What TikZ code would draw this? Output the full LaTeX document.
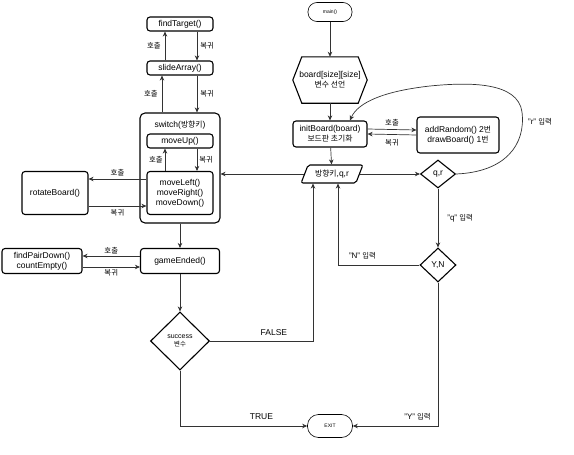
\documentclass[tikz,border=0pt]{standalone}
\usepackage{fontspec}
\setmainfont{Liberation Sans}
\newfontfamily\krfont[Scale=0.92]{Noto Sans CJK KR}
\newcommand{\kortext}[1]{{\krfont #1}}
\usetikzlibrary{arrows.meta,shapes.geometric}

\begin{document}
\begin{tikzpicture}[x=1pt,y=-1pt,
    font=\fontsize{8.5}{9.8}\selectfont,
    box/.style={draw,line width=1.1pt,rounded corners=3pt,minimum width=66pt,
      minimum height=14pt,align=center,inner sep=1pt},
    term/.style={draw,line width=0.6pt,rounded corners=9pt,minimum width=44pt,
      minimum height=19pt,font=\fontsize{5}{6}\selectfont},
    dec/.style={diamond,draw,line width=1.1pt,inner sep=0pt,align=center},
    arr/.style={draw=black!80,line width=0.7pt,
      -{Stealth[length=5pt,width=4.5pt,inset=1.5pt]}},
    lbl/.style={font=\fontsize{8}{9}\selectfont\krfont,inner sep=1pt},
    inlbl/.style={font=\fontsize{8}{9}\selectfont,inner sep=1pt}
  ]
    \useasboundingbox (0,0) rectangle (574,455);

    % left column
    \node[box] (find) at (180,24) {findTarget()};
    \node[box] (slide) at (180,68) {slideArray()};
    \node[draw,line width=1.1pt,rounded corners=5pt,minimum width=80pt,
      minimum height=110pt] (sw) at (180,168) {};
    \node (swt) at (180,125) {switch(\kortext{방향키})};
    \node[box] (up) at (180,141) {moveUp()};
    \node[box,minimum height=43pt] (mv) at (180,193) {moveLeft()\\moveRight()\\moveDown()};
    \node[box,minimum height=43pt] (rot) at (55,193) {rotateBoard()};
    \node[box,minimum width=80pt,minimum height=25pt] (pair) at (42,261) {findPairDown()\\countEmpty()};
    \node[box,minimum width=79pt,minimum height=25pt] (end) at (180,261) {gameEnded()};
    \node[dec,minimum width=59pt,minimum height=58pt,
      font=\fontsize{7}{8.5}\selectfont] (succ) at (180,341) {success\\\kortext{변수}};

    % right column
    \node[term] (main) at (330,12) {main()};
    \node[minimum width=74pt,minimum height=46pt,align=center,inner sep=0pt] (decl) at (330,80)
      {board[size][size]\\\kortext{변수 선언}};
    \draw[line width=1.1pt] (decl.west) -- ([xshift=9]decl.north west)
      -- ([xshift=-9]decl.north east) -- (decl.east)
      -- ([xshift=-9]decl.south east) -- ([xshift=9]decl.south west) -- cycle;
    \node[box,minimum width=74pt,minimum height=26pt] (init) at (330,134)
      {initBoard(board)\\\kortext{보드판 초기화}};
    \node[box,minimum width=82pt,minimum height=36pt] (add) at (458,135)
      {addRandom() 2\kortext{번}\\drawBoard() 1\kortext{번}};
    \node[trapezium,trapezium left angle=63,trapezium right angle=117,trapezium stretches,
      draw,line width=1.1pt,rounded corners=2pt,minimum width=62pt,minimum height=18pt,
      inner sep=1pt] (key) at (332,174) {\kortext{방향키},q,r};
    \node[dec,minimum width=35pt,minimum height=28pt] (qr) at (438,174) {q,r};
    \node[dec,minimum width=36pt,minimum height=34pt] (yn) at (438,265) {Y,N};
    \node[term,minimum width=45pt,minimum height=23pt,rounded corners=11pt] (exit) at (330,426) {EXIT};

    % calls and returns
    \draw[arr] ([xshift=-15]slide.north) -- ([xshift=-15]find.south) node[midway,left=3pt,lbl] {호출};
    \draw[arr] ([xshift=17]find.south) -- ([xshift=17]slide.north) node[midway,right=2pt,lbl] {복귀};
    \draw[arr] ([xshift=-18]sw.north) -- ([xshift=-18]slide.south) node[midway,left=3pt,lbl] {호출};
    \draw[arr] ([xshift=17]slide.south) -- ([xshift=17]sw.north) node[midway,right=2pt,lbl] {복귀};
    \draw[arr] ([xshift=-15]mv.north) -- ([xshift=-15]up.south) node[midway,left=1pt,lbl] {호출};
    \draw[arr] ([xshift=17]up.south) -- ([xshift=17]mv.north) node[midway,right=1pt,lbl] {복귀};
    \draw[arr] ([yshift=14]mv.west) -- ([yshift=14]rot.east) node[midway,above=2pt,lbl] {호출};
    \draw[arr] ([yshift=-13]rot.east) -- ([yshift=-13]mv.west) node[midway,below=2pt,lbl] {복귀};
    \draw[arr] ([yshift=5]end.west) -- ([yshift=5]pair.east) node[midway,above=1pt,lbl] {호출};
    \draw[arr] ([yshift=-6]pair.east) -- ([yshift=-6]end.west) node[midway,below=1pt,lbl] {복귀};
    \draw[arr] ([yshift=5]init.east) -- ([yshift=5]add.west) node[midway,above=2pt,lbl] {호출};
    \draw[arr] ([yshift=0]add.west) -- ([yshift=0]init.east) node[midway,below=4pt,lbl] {복귀};

    % main flow
    \draw[arr] (main) -- (decl);
    \draw[arr] (decl) -- (init);
    \draw[arr] (init) -- (key);
    \draw[arr] (key.west) -- (key.west -| sw.east);
    \draw[arr] (sw) -- (end);
    \draw[arr] (end) -- (succ);
    \draw[arr] (key.east) -- (qr.west);
    \draw[arr] (qr.east) .. controls (505,172) and (526,145) .. (522,112)
      .. controls (518,82) and (470,82) .. (430,86)
      .. controls (385,91) and (358,102) .. ([xshift=20]init.north);
    \node[inlbl] (rin) at (540,122) {"r" \kortext{입력}};
    \draw[arr] (qr) -- (yn) node[midway,right=8pt,inlbl] {"q" \kortext{입력}};
    \draw[arr] (yn.west) -| ([xshift=6]key.south) node[pos=0.35,above=5pt,inlbl] {"N" \kortext{입력}};
    \draw[arr] (yn.south) |- (exit.east) node[pos=0.62,above=5pt,inlbl] {"Y" \kortext{입력}};
    \draw[arr] (succ.east) -| ([xshift=-19]key.south) node[pos=0.31,above=2pt] {FALSE};
    \draw[arr] (succ.south) |- (exit.west) node[pos=0.82,above=3pt] {TRUE};
  \end{tikzpicture}
\end{document}
